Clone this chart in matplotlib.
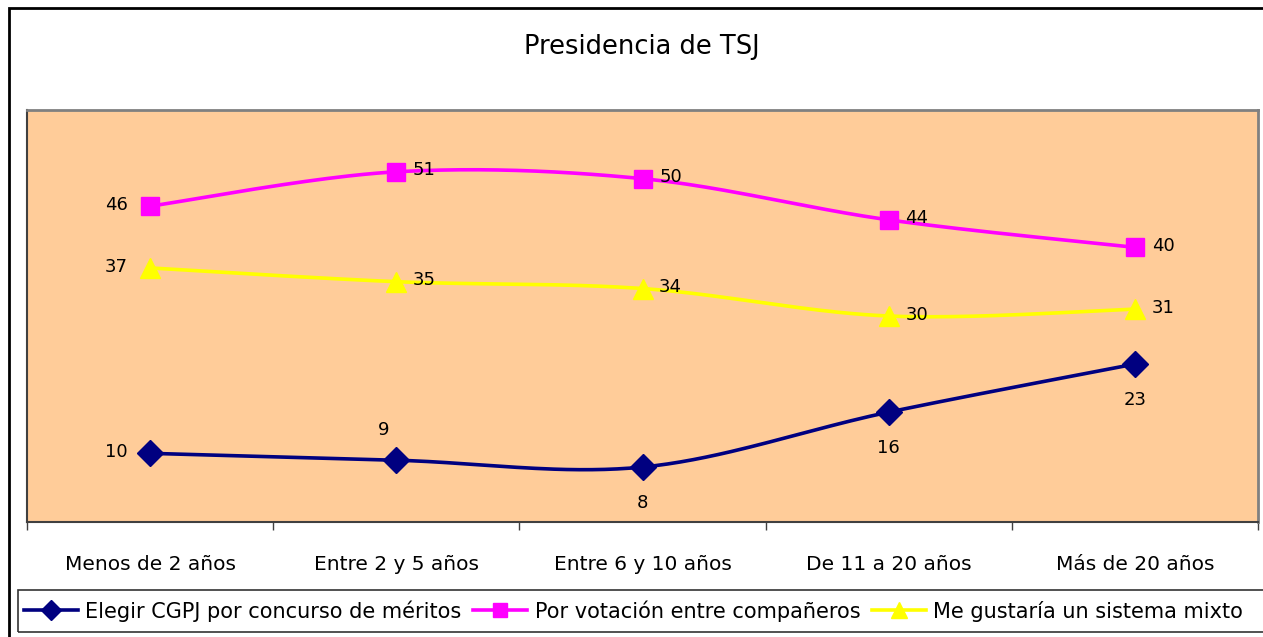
import numpy as np
import matplotlib
matplotlib.use("Agg")
import matplotlib.pyplot as plt
from matplotlib.patches import Rectangle
from matplotlib.lines import Line2D

plt.rcParams['font.family'] = ['DejaVu Sans']

title = "Presidencia de TSJ"
categories = ["Menos de 2 años", "Entre 2 y 5 años", "Entre 6 y 10 años", "De 11 a 20 años", "Más de 20 años"]
series_names = ["Elegir CGPJ por concurso de méritos", "Por votación entre compañeros", "Me gustaría un sistema mixto"]
meritos = [10, 9, 8, 16, 23]
votacion = [46, 51, 50, 44, 40]
mixto = [37, 35, 34, 30, 31]

colors = ["#000080", "#FF00FF", "#FFFF00"]
markers = ["D", "s", "^"]
msizes = [13, 13, 14]
leg_msizes = [10, 9.5, 11]
label_pos = [
    ["left", "above", "below", "below", "below"],
    ["left", "right", "right", "right", "right"],
    ["left", "right", "right", "right", "right"],
]


def smooth(xs, ys, n=40):
    xs = np.asarray(xs, float)
    ys = np.asarray(ys, float)
    px = np.concatenate([[xs[0]], xs, [xs[-1]]])
    py = np.concatenate([[ys[0]], ys, [ys[-1]]])
    outx, outy = [], []
    t = np.linspace(0, 1, n)
    for i in range(1, len(px) - 2):
        p0 = np.array([px[i], py[i]])
        p3 = np.array([px[i + 1], py[i + 1]])
        p1 = p0 + (np.array([px[i + 1], py[i + 1]]) - np.array([px[i - 1], py[i - 1]])) / 6
        p2 = p3 - (np.array([px[i + 2], py[i + 2]]) - np.array([px[i], py[i]])) / 6
        bx = (1 - t) ** 3 * p0[0] + 3 * (1 - t) ** 2 * t * p1[0] + 3 * (1 - t) * t ** 2 * p2[0] + t ** 3 * p3[0]
        by = (1 - t) ** 3 * p0[1] + 3 * (1 - t) ** 2 * t * p1[1] + 3 * (1 - t) * t ** 2 * p2[1] + t ** 3 * p3[1]
        outx.extend(bx)
        outy.extend(by)
    return outx, outy


W, H = 1263, 637
fig = plt.figure(figsize=(W / 100, H / 100), dpi=100)
ax = fig.add_axes([27 / W, (H - 522) / H, 1231 / W, 412 / H])
ax.set_facecolor("#FFCC99")

x = np.arange(len(categories))
for vals, c, m, ms, lp in zip([meritos, votacion, mixto], colors, markers, msizes, label_pos):
    sx, sy = smooth(x, vals)
    ax.plot(sx, sy, color=c, lw=2.6, zorder=3)
    ax.plot(x, vals, linestyle="none", marker=m, color=c, markersize=ms,
            markeredgecolor=c, zorder=4)
    for xi, v, pos in zip(x, vals, lp):
        if pos == "left":
            ax.annotate(str(v), (xi, v), xytext=(-16, 1), textcoords="offset points",
                        ha="right", va="center", fontsize=13)
        elif pos == "right":
            ax.annotate(str(v), (xi, v), xytext=(12, 1), textcoords="offset points",
                        ha="left", va="center", fontsize=13)
        elif pos == "above":
            ax.annotate(str(v), (xi, v), xytext=(-9, 22), textcoords="offset points",
                        ha="center", va="center", fontsize=13)
        else:
            ax.annotate(str(v), (xi, v), xytext=(0, -26), textcoords="offset points",
                        ha="center", va="center", fontsize=13)

ax.set_xlim(-0.5, len(categories) - 0.5)
ax.set_ylim(0, 60)
ax.set_yticks([])
ax.set_xticks(x)
ax.set_xticklabels(categories, fontsize=14.5)
ax.tick_params(axis="x", which="major", length=0, pad=24)
ax.set_xticks(np.arange(-0.5, len(categories), 1.0), minor=True)
ax.tick_params(axis="x", which="minor", length=6, color="#404040", width=1)
for side in ["top", "right"]:
    ax.spines[side].set_color("#808080")
    ax.spines[side].set_linewidth(2)
ax.spines["left"].set_color("#404040")
ax.spines["bottom"].set_color("#404040")
ax.spines["left"].set_linewidth(1.5)
ax.spines["bottom"].set_linewidth(1.5)

fig.text(642 / W, 1 - 47 / H, title, ha="center", va="center", fontsize=18.5)

fig.patches.append(Rectangle((9 / W, -0.05), 1.2, 1 - 8 / H + 0.05, transform=fig.transFigure,
                             fill=False, edgecolor="black", lw=2, zorder=10))
fig.patches.append(Rectangle((18 / W, (H - 632) / H), 1.2, 42 / H, transform=fig.transFigure,
                             fill=False, edgecolor="#333333", lw=1.2, zorder=10))
handles = [Line2D([0], [0], color=c, lw=2.6, marker=m, markersize=ms)
           for c, m, ms in zip(colors, markers, leg_msizes)]
fig.legend(handles, series_names, loc="center left", bbox_to_anchor=(24 / W, (H - 611) / H),
           ncol=3, frameon=False, fontsize=15, handlelength=2.6, handletextpad=0.35,
           columnspacing=0.55, borderpad=0, borderaxespad=0)

fig.savefig("out.png", dpi=100)
